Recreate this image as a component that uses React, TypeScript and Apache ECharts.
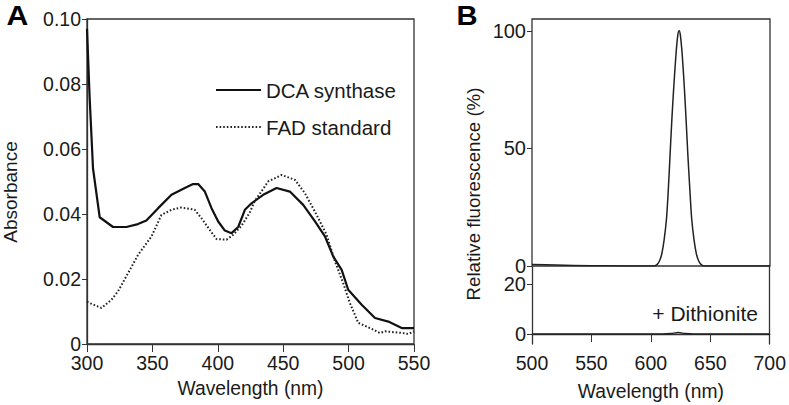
import React, { useEffect, useRef } from "react";
import * as echarts from "echarts";

// Panel A: absorbance spectra
const dcaWavelength = [300, 302, 304.6, 309.7, 319.9, 330.1, 339, 345.4, 354.4, 364.6, 374.8, 381.1, 385, 390.1, 395.2, 400.3, 405.4, 410.5, 415.6, 420.7, 425.8, 434.7, 444.9, 455.1, 465.3, 474.3, 481.9, 488.3, 494.7, 499.7, 510, 520.2, 530.4, 540.6, 550];
const dcaAbsorbance = [0.097, 0.076, 0.054, 0.039, 0.036, 0.036, 0.0369, 0.038, 0.0418, 0.0459, 0.048, 0.0492, 0.0492, 0.0469, 0.0418, 0.0377, 0.0349, 0.0341, 0.036, 0.0413, 0.0433, 0.0459, 0.048, 0.0469, 0.0428, 0.0377, 0.0331, 0.0269, 0.0228, 0.0167, 0.0121, 0.008, 0.0069, 0.0049, 0.0049];

const fadWavelength = [300, 302, 311, 318.7, 323.7, 331.4, 339, 349.3, 356.9, 364.6, 372.2, 382.4, 387.5, 393.9, 399, 406.7, 411.7, 418.2, 424.5, 428.3, 438.5, 448.8, 459, 466.6, 475.6, 483.2, 489.6, 495.9, 501, 507.4, 516.3, 524, 527.8, 540.6, 545.7, 550];
const fadAbsorbance = [0.013, 0.0126, 0.0111, 0.0136, 0.0162, 0.0218, 0.0274, 0.0331, 0.0397, 0.0413, 0.042, 0.0413, 0.0387, 0.0351, 0.0323, 0.0321, 0.0336, 0.0364, 0.0405, 0.044, 0.05, 0.052, 0.0505, 0.0464, 0.0397, 0.0336, 0.0254, 0.0187, 0.0126, 0.0065, 0.0049, 0.0034, 0.0039, 0.0034, 0.0031, 0.0039];

// Panel B: fluorescence
const fluoWavelength = [500, 520, 550, 580, 602, 605, 607, 609, 611, 613, 614.5, 616, 617.5, 619, 621, 622.5, 623.6, 624.7, 626.2, 628, 629.5, 631, 632.7, 634.2, 636.2, 638.2, 640.2, 642.2, 645, 700];
const fluoValue = [0.6, 0.4, 0.15, 0.05, 0, 0.6, 2, 5, 11, 20, 32, 47, 62, 75, 90, 98, 100, 98, 90, 76, 62, 47, 32, 20, 11, 5, 2, 0.6, 0, 0];

const dithWavelength = [500, 610, 617, 623, 629, 636, 700];
const dithValue = [0, 0, 0.2, 0.6, 0.2, 0, 0];

const xTicksA = [300, 350, 400, 450, 500, 550];
const yTicksA = [0, 0.02, 0.04, 0.06, 0.08, 0.1];
const yTicksBUpper = [0, 50, 100];
const yTicksBLower = [0, 20];
const xTicksB = [500, 550, 600, 650, 700];

const seriesNames = ["DCA synthase", "FAD standard"];

const zip = (xs: number[], ys: number[]) => xs.map((x, i) => [x, ys[i]]);

const FONT = "Liberation Sans, Arial, Helvetica, sans-serif";
const INK = "#1a1a1a";
const AXIS = "#333";

export default function App() {
  const ref = useRef<HTMLDivElement>(null);

  useEffect(() => {
    if (!ref.current) return;
    const chart = echarts.init(ref.current, undefined, { renderer: "svg" });

    const tick = { fontFamily: FONT, fontSize: 19.5, color: INK, lineHeight: 15 };
    const title = { fontFamily: FONT, fontSize: 19.3, color: INK };

    const option: any = {
      animation: false,
      backgroundColor: "#fff",
      textStyle: { fontFamily: FONT },
      grid: [
        { left: 87, top: 19, width: 327, height: 325, show: true, borderColor: AXIS, borderWidth: 1.3, containLabel: false },
        { left: 532, top: 19, width: 238, height: 247, show: true, borderColor: AXIS, borderWidth: 1.3, containLabel: false },
        { left: 532, top: 267, width: 238, height: 77, show: false, containLabel: false },
      ],
      xAxis: [
        {
          type: "value", gridIndex: 0, min: 300, max: 550, interval: 50,
          name: "Wavelength (nm)", nameLocation: "middle", nameGap: 35,
          nameTextStyle: { ...title },
          axisLine: { show: true, lineStyle: { color: AXIS, width: 1.3 } },
          axisTick: { show: true, length: 8, lineStyle: { color: AXIS, width: 1 }, customValues: xTicksA },
          axisLabel: { ...tick, margin: 11, customValues: xTicksA },
          splitLine: { show: false },
        },
        {
          type: "value", gridIndex: 1, min: 500, max: 700, interval: 50,
          axisLine: { show: false }, axisTick: { show: false }, axisLabel: { show: false }, splitLine: { show: false },
        },
        {
          type: "value", gridIndex: 2, min: 500, max: 700, interval: 50,
          name: "Wavelength (nm)", nameLocation: "middle", nameGap: 38,
          nameTextStyle: { ...title },
          axisLine: { show: true, lineStyle: { color: AXIS, width: 1.3 } },
          axisTick: { show: true, length: 8, lineStyle: { color: AXIS, width: 1 }, customValues: xTicksB },
          axisLabel: { ...tick, margin: 11, customValues: xTicksB },
          splitLine: { show: false },
        },
      ],
      yAxis: [
        {
          type: "value", gridIndex: 0, min: 0, max: 0.1, interval: 0.02,
          axisLine: { show: true, lineStyle: { color: AXIS, width: 1.3 } },
          axisTick: { show: true, length: 5, lineStyle: { color: AXIS, width: 1 }, customValues: yTicksA },
          axisLabel: { ...tick, margin: 6, customValues: yTicksA, formatter: (v: number) => (v === 0 ? "0" : v.toFixed(2)) },
          splitLine: { show: false },
        },
        {
          type: "value", gridIndex: 1, min: 0, max: 105,
          axisLine: { show: false },
          axisTick: { show: true, length: 5, lineStyle: { color: AXIS, width: 1 }, customValues: yTicksBUpper },
          axisLabel: { ...tick, fontSize: 20, margin: 6, customValues: yTicksBUpper },
          splitLine: { show: false },
        },
        {
          type: "value", gridIndex: 2, min: -4, max: 27,
          axisLine: { show: true, lineStyle: { color: AXIS, width: 1.3 } },
          axisTick: { show: true, length: 5, lineStyle: { color: AXIS, width: 1 }, customValues: yTicksBLower },
          axisLabel: { ...tick, fontSize: 20, margin: 6, customValues: yTicksBLower },
          splitLine: { show: false },
        },
        {
          type: "value", gridIndex: 2, min: -4, max: 27, position: "right",
          axisLine: { show: true, lineStyle: { color: AXIS, width: 1.3 } },
          axisTick: { show: false }, axisLabel: { show: false }, splitLine: { show: false },
        },
      ],
      legend: {
        orient: "vertical",
        left: 215,
        top: 79,
        padding: 0,
        itemWidth: 45,
        itemHeight: 14,
        itemGap: 15,
        itemStyle: { opacity: 0 },
        textStyle: { fontFamily: FONT, fontSize: 20.5, color: INK, lineHeight: 22 },
        data: seriesNames,
      },
      graphic: [
        { type: "text", x: 6.5, y: 2, scaleX: 1.12, style: { text: "A", font: `bold 27px ${FONT}`, fill: "#000", align: "left", verticalAlign: "top" } },
        { type: "text", x: 456.5, y: 2, scaleX: 1.08, style: { text: "B", font: `bold 27px ${FONT}`, fill: "#000", align: "left", verticalAlign: "top" } },
        {
          type: "text", x: 10, y: 192, rotation: Math.PI / 2,
          style: { text: "Absorbance", font: `19px ${FONT}`, fill: INK, align: "center", verticalAlign: "middle" },
        },
        {
          type: "text", x: 473, y: 194, rotation: Math.PI / 2,
          style: { text: "Relative fluorescence (%)", font: `18.7px ${FONT}`, fill: INK, align: "center", verticalAlign: "middle" },
        },
        {
          type: "text", x: 758, y: 313,
          style: { text: "+ Dithionite", font: `21px ${FONT}`, fill: INK, align: "right", verticalAlign: "middle" },
        },
      ],
      series: [
        {
          name: seriesNames[0], type: "line", xAxisIndex: 0, yAxisIndex: 0,
          data: zip(dcaWavelength, dcaAbsorbance), symbol: "none",
          lineStyle: { color: "#111", width: 2.2, type: "solid" },
          itemStyle: { color: "#111" },
        },
        {
          name: seriesNames[1], type: "line", xAxisIndex: 0, yAxisIndex: 0,
          data: zip(fadWavelength, fadAbsorbance), symbol: "none",
          lineStyle: { color: "#222", width: 2, type: [1.6, 2], cap: "butt" },
          itemStyle: { color: "#222" },
        },
        {
          name: "Fluorescence", type: "line", xAxisIndex: 1, yAxisIndex: 1,
          data: zip(fluoWavelength, fluoValue), symbol: "none", smooth: 0.3,
          lineStyle: { color: "#222", width: 1.5 },
        },
        {
          name: "+ Dithionite", type: "line", xAxisIndex: 2, yAxisIndex: 2,
          data: zip(dithWavelength, dithValue), symbol: "none", smooth: 0.3,
          lineStyle: { color: "#222", width: 1.5 },
        },
      ],
    };

    chart.setOption(option);
    return () => chart.dispose();
  }, []);

  return (
    <div
      ref={ref}
      style={{ position: "fixed", left: 0, top: 0, width: 789, height: 405, background: "#fff" }}
    />
  );
}
